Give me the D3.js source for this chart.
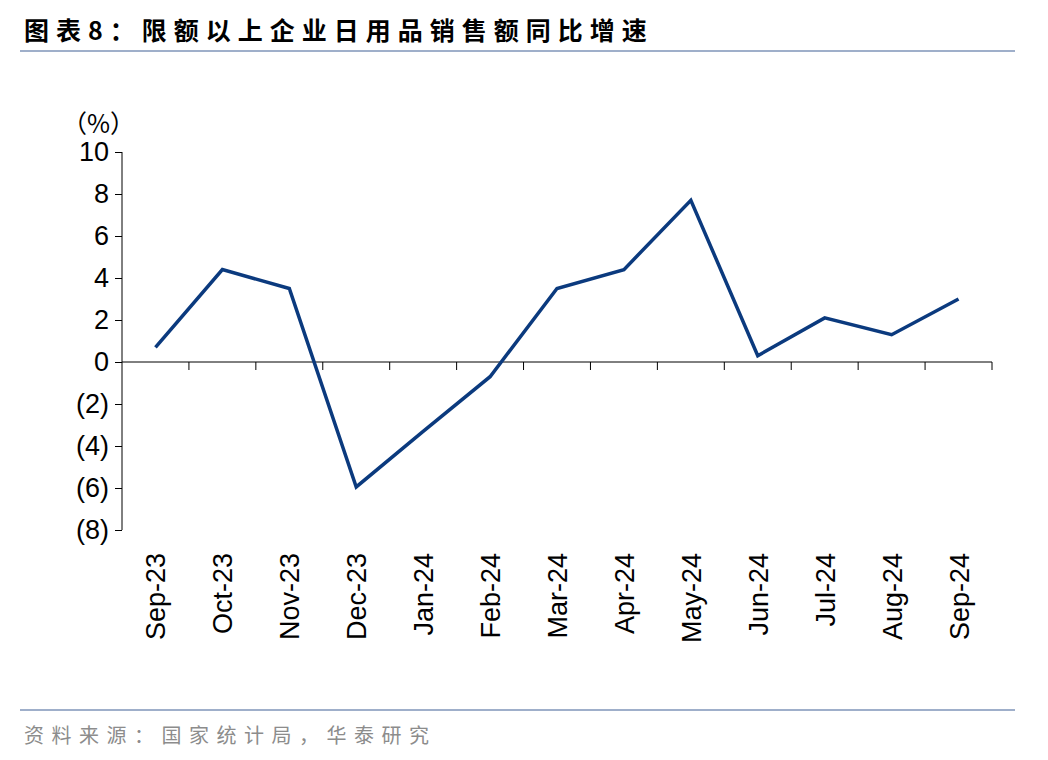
<!DOCTYPE html>
<html><head><meta charset="utf-8">
<script src="https://cdn.jsdelivr.net/npm/d3@7"></script>
<style>body{margin:0;background:#fff}</style>
</head><body><div id="chart"></div>
<script>
// data
const months = ["Sep-23","Oct-23","Nov-23","Dec-23","Jan-24","Feb-24","Mar-24","Apr-24","May-24","Jun-24","Jul-24","Aug-24","Sep-24"];
const growth = [0.7, 4.4, 3.5, -5.95, -3.3, -0.7, 3.5, 4.4, 7.7, 0.3, 2.1, 1.3, 3.0];
const yTicks = [10, 8, 6, 4, 2, 0, -2, -4, -6, -8];

const W = 1048, H = 760;
const svg = d3.select("#chart").append("svg").attr("width", W).attr("height", H)
    .style("font-family", "Liberation Sans, Arial, sans-serif");

// title and rules
svg.append("text").attr("x", 24).attr("y", 40)
    .style("font-family", "Noto Sans CJK SC").style("font-weight", "bold").style("font-size", "25px")
    .style("letter-spacing", "7px")
    .text("图表8：限额以上企业日用品销售额同比增速");
svg.append("line").attr("x1", 20).attr("x2", 1015).attr("y1", 51).attr("y2", 51).attr("stroke", "#7f95b8").attr("stroke-width", 1.5);
svg.append("line").attr("x1", 20).attr("x2", 1015).attr("y1", 710).attr("y2", 710).attr("stroke", "#7f95b8").attr("stroke-width", 1.5);
svg.append("text").attr("x", 24).attr("y", 743)
    .style("font-family", "Noto Sans CJK SC").style("font-size", "20px").attr("fill", "#8c8c8c")
    .style("letter-spacing", "7.5px")
    .text("资料来源：国家统计局，华泰研究");

const x = d3.scaleBand().domain(months).range([122, 992]);
const y = d3.scaleLinear().domain([-8, 10]).range([530, 152]);

// y axis
const yAxis = svg.append("g").attr("transform", "translate(122,0)")
    .call(d3.axisLeft(y).tickValues(yTicks).tickSize(7).tickPadding(6)
        .tickFormat(d => d < 0 ? "(" + (-d) + ")" : d));
yAxis.selectAll("text").style("font-size", "27px").attr("fill", "#000")
    .style("font-family", "Liberation Sans, Arial, sans-serif");
yAxis.selectAll("line,path").attr("stroke", "#000");
yAxis.select("path").attr("d", "M0," + y(10) + "V" + y(-8));
svg.append("text").attr("x", 62).attr("y", 133).style("font-size", "25px").text("（%）")
    .style("font-family", "Noto Sans CJK SC");

// x axis at zero
const xAxis = svg.append("g").attr("transform", "translate(0," + y(0) + ")")
    .call(d3.axisBottom(x).tickSize(0).tickFormat(""));
xAxis.select("path").attr("d", "M122,0H992").attr("stroke", "#000");
const bounds = d3.range(1, months.length + 1).map(i => 122 + i * x.bandwidth());
xAxis.selectAll(".bt").data(bounds).join("line").attr("class", "bt")
    .attr("x1", d => d).attr("x2", d => d).attr("y1", 0).attr("y2", 8).attr("stroke", "#000");

// rotated category labels
svg.append("g").selectAll("text").data(months).join("text")
    .attr("transform", d => "translate(" + (x(d) + x.bandwidth() / 2 + 10) + ",553) rotate(-90)")
    .attr("text-anchor", "end").style("font-size", "27px").text(d => d);

// line
const line = d3.line().x((d, i) => x(months[i]) + x.bandwidth() / 2).y(d => y(d));
svg.append("path").datum(growth).attr("d", line).attr("fill", "none")
    .attr("stroke", "#0b3a7e").attr("stroke-width", 3.5);
</script></body></html>
